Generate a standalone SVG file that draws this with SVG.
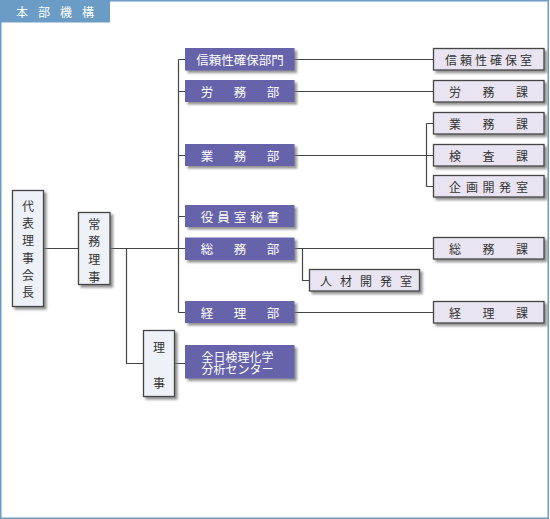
<svg xmlns="http://www.w3.org/2000/svg" width="550" height="519" viewBox="0 0 550 519">
<defs>
<filter id="sh" x="-10%" y="-10%" width="130%" height="140%">
<feDropShadow dx="2.5" dy="2.5" stdDeviation="0.8" flood-color="#777" flood-opacity="0.8"/>
</filter>
<style>
.frame{fill:#fff;stroke:#6a9cc6;stroke-width:1.5}
.tab{fill:#6a9cc6}
.tabt{font-family:"Noto Sans CJK JP","Noto Sans CJK SC",sans-serif;font-size:12px;fill:#fff;text-anchor:middle;dominant-baseline:central}
.p{fill:#6664ab;filter:url(#sh)}
.pt{font-family:"Noto Sans CJK JP","Noto Sans CJK SC",sans-serif;font-size:12.5px;fill:#fff;text-anchor:middle;dominant-baseline:central}
.pl{font-family:"Noto Sans CJK JP","Noto Sans CJK SC",sans-serif;font-size:12px;fill:#fff;dominant-baseline:central}
.w{fill:#eef1f8;stroke:#444;stroke-width:1.3;filter:url(#sh)}
.l{fill:#e9e4f1;stroke:#444;stroke-width:1.3;filter:url(#sh)}
.dt{font-family:"Noto Sans CJK JP","Noto Sans CJK SC",sans-serif;font-size:12px;fill:#333;text-anchor:middle;dominant-baseline:central}
.c{fill:none;stroke:#444;stroke-width:1.2}
</style>
</defs>
<rect class="frame" x="0.75" y="0.75" width="547.5" height="517.5"/>
<g id="title">
<rect class="tab" x="0" y="0" width="110" height="22.5"/>
<text class="tabt" x="22 44 66 88" y="11.5 11.5 11.5 11.5">本部機構</text>
</g>
<g id="connectors">
<path class="c" d="M43,248.5H78 M110,248.5H185 M178.5,59.5V312.5 M178.5,59.5H185 M178.5,91.5H185 M178.5,155.5H185 M178.5,216.5H185 M178.5,312.5H185 M126.5,248.5V363.5H143 M174,363.5H185 M294,59.5H433 M294,91.5H433 M294,155.5H433 M426.5,123.5V186.5 M426.5,123.5H433 M426.5,186.5H433 M294,248.5H433 M302.5,248.5V280.5H309 M294,312.5H433"/>
</g>
<g id="chairman">
<rect class="w" x="12.5" y="190.5" width="31" height="116"/>
<text class="dt" x="28 28 28 28 28 28" y="205 222.3 239.6 257 274.3 291.6">代表理事会長</text>
</g>
<g id="managing-director">
<rect class="w" x="78.5" y="212.5" width="31.5" height="72"/>
<text class="dt" x="94.3 94.3 94.3 94.3" y="223 240.7 258.4 276">常務理事</text>
</g>
<g id="director">
<rect class="w" x="143.5" y="330.5" width="31" height="66"/>
<text class="dt" x="159 159" y="346 382">理事</text>
</g>
<g id="reliability-div">
<rect class="p" x="185" y="48" width="109.5" height="22.5"/>
<text class="pt" x="240" y="59.5">信頼性確保部門</text>
</g>
<g id="labor-dept">
<rect class="p" x="185" y="80" width="109.5" height="22"/>
<text class="pt" x="207 240 273" y="91 91 91">労務部</text>
</g>
<g id="business-dept">
<rect class="p" x="185" y="144" width="109.5" height="22"/>
<text class="pt" x="207 240 273" y="155 155 155">業務部</text>
</g>
<g id="secretariat">
<rect class="p" x="185" y="205" width="109.5" height="22"/>
<text class="pt" x="207 223.5 240 256.5 273" y="216 216 216 216 216">役員室秘書</text>
</g>
<g id="general-dept">
<rect class="p" x="185" y="237.5" width="109.5" height="22.5"/>
<text class="pt" x="207 240 273" y="248.5 248.5 248.5">総務部</text>
</g>
<g id="accounting-dept">
<rect class="p" x="185" y="301" width="109.5" height="22"/>
<text class="pt" x="207 240 273" y="312 312 312">経理部</text>
</g>
<g id="analysis-center">
<rect class="p" x="185" y="345" width="109.5" height="33.5"/>
<text class="pl"><tspan x="201.5" y="355.5">全日検理化学</tspan><tspan x="201.5" y="368">分析センター</tspan></text>
</g>
<g id="reliability-office">
<rect class="l" x="433.5" y="48.5" width="110.5" height="21.5"/>
<text class="dt" x="451 466 481 496 511 526" y="59.5 59.5 59.5 59.5 59.5 59.5">信頼性確保室</text>
</g>
<g id="labor-section">
<rect class="l" x="433.5" y="80.5" width="110.5" height="21.5"/>
<text class="dt" x="455 488.5 522" y="91.3 91.3 91.3">労務課</text>
</g>
<g id="business-section">
<rect class="l" x="433.5" y="112.5" width="110.5" height="21.5"/>
<text class="dt" x="455 488.5 522" y="123.3 123.3 123.3">業務課</text>
</g>
<g id="inspection-section">
<rect class="l" x="433.5" y="144.5" width="110.5" height="21.5"/>
<text class="dt" x="455 488.5 522" y="155.3 155.3 155.3">検査課</text>
</g>
<g id="planning-office">
<rect class="l" x="433.5" y="175.5" width="110.5" height="21.5"/>
<text class="dt" x="455 472 488.5 505 522" y="186.3 186.3 186.3 186.3 186.3">企画開発室</text>
</g>
<g id="general-section">
<rect class="l" x="433.5" y="237.5" width="110.5" height="21.5"/>
<text class="dt" x="455 488.5 522" y="248.3 248.3 248.3">総務課</text>
</g>
<g id="hr-office">
<rect class="l" x="309.5" y="269.5" width="110" height="21.5"/>
<text class="dt" x="326 346 366 386 406" y="280.3 280.3 280.3 280.3 280.3">人材開発室</text>
</g>
<g id="accounting-section">
<rect class="l" x="433.5" y="301.5" width="110.5" height="21.5"/>
<text class="dt" x="455 488.5 522" y="312.3 312.3 312.3">経理課</text>
</g>
</svg>
